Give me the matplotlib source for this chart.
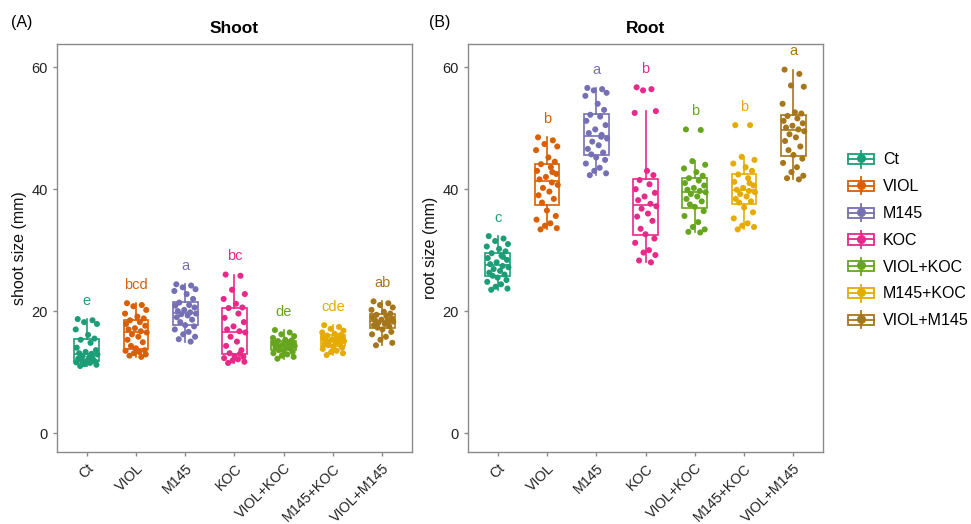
import numpy as np
import matplotlib
matplotlib.use("Agg")
import matplotlib.pyplot as plt
from matplotlib.patches import Rectangle
from matplotlib.lines import Line2D
from matplotlib.legend_handler import HandlerBase

plt.rcParams['font.family'] = ['Liberation Sans', 'DejaVu Sans']

# ── data ─────────────────────────────────────────────────────────────────────
groups = ['Ct', 'VIOL', 'M145', 'KOC', 'VIOL+KOC', 'M145+KOC', 'VIOL+M145']
colors = ['#1B9E77', '#D95F02', '#7570B3', '#E7298A', '#66A61E', '#E6AB02', '#A6761D']

shoot_ct = [18.7, 18.5, 18.2, 17.9, 17.0, 16.1, 15.5, 15.3, 14.8, 14.0, 13.6, 13.3, 13.1, 13.0,
            12.9, 12.6, 12.4, 12.2, 12.0, 11.9, 11.8, 11.7, 11.6, 11.5, 11.3, 11.2, 11.0, 12.5]
shoot_viol = [21.3, 21.0, 20.8, 20.2, 19.6, 19.1, 18.8, 18.5, 18.2, 17.9, 17.6, 17.2, 17.0, 16.7,
              16.5, 16.2, 15.8, 15.3, 14.9, 14.3, 13.9, 13.6, 13.5, 13.3, 13.1, 12.9, 12.7, 12.5]
shoot_m145 = [24.4, 24.2, 23.9, 23.6, 23.3, 22.8, 22.0, 21.4, 21.0, 20.9, 20.6, 20.2, 20.0, 19.8,
              19.6, 19.5, 19.3, 19.0, 18.6, 18.2, 17.7, 17.5, 17.0, 16.6, 16.2, 15.8, 15.4, 15.0]
shoot_koc = [26.0, 25.8, 23.5, 22.8, 22.0, 21.2, 20.6, 20.5, 19.6, 18.9, 18.2, 17.5, 17.0, 16.7,
             16.5, 15.8, 15.0, 14.3, 13.6, 13.1, 12.6, 12.5, 12.3, 12.1, 11.9, 11.7, 11.5, 13.0]
shoot_violkoc = [16.9, 16.5, 16.2, 15.9, 15.6, 15.3, 15.2, 15.1, 14.8, 14.7, 14.6, 14.5, 14.4, 14.4,
                 14.3, 14.2, 14.1, 14.0, 13.8, 13.6, 13.5, 13.3, 13.1, 12.9, 12.7, 12.5, 12.2, 14.9]
shoot_m145koc = [17.7, 17.4, 17.1, 16.8, 16.5, 16.3, 16.1, 16.0, 15.8, 15.6, 15.5, 15.4, 15.3, 15.2,
                 15.1, 15.0, 14.9, 14.7, 14.5, 14.4, 14.2, 14.0, 13.8, 13.5, 13.3, 13.1, 12.8, 15.9]
shoot_violm145 = [21.6, 21.3, 21.0, 20.6, 20.2, 19.9, 19.6, 19.4, 19.2, 19.0, 18.8, 18.6, 18.5, 18.4,
                  18.3, 18.1, 17.9, 17.7, 17.5, 17.3, 17.0, 16.6, 16.2, 15.8, 15.3, 14.8, 14.4, 18.0]

root_ct = [32.3, 31.9, 31.5, 31.0, 30.6, 30.2, 29.8, 29.5, 29.1, 28.7, 28.4, 28.0, 27.7, 27.4,
           27.2, 26.9, 26.6, 26.3, 26.0, 25.8, 25.5, 25.1, 24.8, 24.4, 24.0, 23.7, 23.5, 28.9]
root_viol = [48.5, 48.0, 47.4, 47.0, 46.4, 45.2, 44.5, 44.1, 43.6, 43.0, 42.5, 42.0, 41.6, 41.1,
             40.7, 40.2, 39.6, 39.0, 38.4, 37.8, 36.5, 35.6, 35.0, 34.4, 34.0, 33.6, 33.4, 42.8]
root_m145 = [56.6, 56.4, 56.2, 55.8, 55.3, 54.0, 53.0, 52.2, 51.9, 51.2, 50.5, 49.8, 49.2, 48.6,
             48.3, 47.8, 47.2, 46.6, 46.0, 45.7, 45.2, 44.8, 44.2, 43.5, 43.0, 42.6, 42.3, 48.9]
root_koc = [56.7, 56.4, 56.2, 52.8, 52.5, 43.0, 42.3, 41.5, 40.8, 40.0, 39.4, 38.8, 38.2, 37.6,
            37.2, 36.8, 36.0, 35.5, 34.8, 33.5, 32.6, 31.9, 31.2, 30.0, 29.6, 29.2, 28.3, 28.0]
root_violkoc = [49.8, 49.7, 44.6, 44.0, 43.4, 42.8, 42.2, 41.8, 41.4, 41.0, 40.6, 40.2, 39.9, 39.7,
                39.5, 39.2, 38.8, 38.4, 38.0, 37.5, 37.1, 36.4, 35.6, 34.6, 33.8, 33.4, 33.0, 32.9]
root_m145koc = [50.5, 50.5, 45.3, 44.8, 44.2, 43.6, 43.0, 42.4, 41.8, 41.2, 40.6, 40.2, 39.9, 39.7,
                39.5, 39.2, 38.8, 38.4, 38.0, 37.8, 37.0, 36.2, 35.2, 34.4, 34.0, 33.8, 33.4, 41.0]
root_violm145 = [59.6, 58.9, 57.0, 56.8, 54.0, 52.6, 52.4, 52.0, 51.6, 51.2, 50.8, 50.4, 50.1, 49.8,
                 49.5, 49.0, 48.5, 47.9, 47.0, 46.4, 45.6, 45.0, 44.3, 43.6, 42.8, 42.2, 41.8, 41.6]

shoot_letters = ['e', 'bcd', 'a', 'bc', 'de', 'cde', 'ab']
root_letters = ['c', 'b', 'a', 'b', 'b', 'b', 'a']

shoot = [shoot_ct, shoot_viol, shoot_m145, shoot_koc, shoot_violkoc, shoot_m145koc, shoot_violm145]
root = [root_ct, root_viol, root_m145, root_koc, root_violkoc, root_m145koc, root_violm145]

# fixed horizontal jitter (style only)
jitter = [-0.18, 0.12, -0.05, 0.21, -0.22, 0.03, 0.16, -0.12, 0.08, -0.20, 0.19, -0.02, -0.15, 0.10,
          0.22, -0.08, 0.05, -0.17, 0.14, -0.10, 0.00, 0.18, -0.21, 0.07, -0.04, 0.20, -0.13, 0.11]

GREY = '#8a8a8a'


class BoxKey(HandlerBase):
    """Legend key drawn like a little boxplot with a dot."""
    def create_artists(self, legend, orig_handle, xdescent, ydescent,
                       width, height, fontsize, trans):
        c = orig_handle.get_color()
        x0, y0 = -xdescent, -ydescent
        lw = 1.3
        box = Rectangle((x0, y0 + 0.2 * height), width, 0.6 * height,
                        fc='white', ec=c, lw=lw, transform=trans)
        med = Line2D([x0, x0 + width], [y0 + 0.5 * height] * 2, color=c, lw=lw, transform=trans)
        wt = Line2D([x0 + width / 2] * 2, [y0 + 0.8 * height, y0 + height], color=c, lw=lw, transform=trans)
        wb = Line2D([x0 + width / 2] * 2, [y0, y0 + 0.2 * height], color=c, lw=lw, transform=trans)
        dot = Line2D([x0 + width / 2], [y0 + 0.55 * height], marker='o', ms=5.5, color=c,
                     ls='none', transform=trans)
        return [box, med, wt, wb, dot]


def draw_panel(ax, data, letters, title, ylabel):
    pos = np.arange(1, len(groups) + 1)
    bp = ax.boxplot(data, positions=pos, widths=0.5, whis=1.5, showfliers=False,
                    patch_artist=True, manage_ticks=False)
    for i, c in enumerate(colors):
        bp['boxes'][i].set(facecolor='white', edgecolor=c, linewidth=1.2)
        bp['medians'][i].set(color=c, linewidth=1.2)
        for k in (2 * i, 2 * i + 1):
            bp['whiskers'][k].set(color=c, linewidth=1.2)
            bp['caps'][k].set(visible=False)

    for i, (vals, c) in enumerate(zip(data, colors)):
        xs = pos[i] + np.array(jitter[:len(vals)])
        ax.scatter(xs, vals, s=19, color=c, edgecolors='none', zorder=3)
        ax.text(pos[i], max(vals) + 3.0, letters[i], color=c, ha='center', va='center',
                fontsize=10.5)

    ax.set_xlim(0.4, 7.6)
    ax.set_ylim(-3.1, 63.8)
    ax.set_yticks([0, 20, 40, 60])
    ax.set_xticks(pos)
    ax.set_xticklabels(groups, rotation=45, ha='right', va='top', rotation_mode='anchor')
    ax.tick_params(axis='x', labelsize=10.3)
    ax.tick_params(axis='y', labelsize=10.5)
    ax.tick_params(axis='both', colors=GREY, labelcolor='#222222', length=3, width=1)
    for sp in ax.spines.values():
        sp.set_color(GREY)
        sp.set_linewidth(1.0)
    ax.set_title(title, fontsize=12.5, fontweight='bold', pad=8)
    ax.set_ylabel(ylabel, fontsize=11.5, color='#111111', labelpad=3)


fig = plt.figure(figsize=(9.71, 5.24), dpi=100)
ax1 = fig.add_axes([0.0587, 0.1374, 0.3656, 0.7786])
ax2 = fig.add_axes([0.482, 0.1374, 0.3656, 0.7786])

draw_panel(ax1, shoot, shoot_letters, 'Shoot', 'shoot size (mm)')
draw_panel(ax2, root, root_letters, 'Root', 'root size (mm)')

fig.text(22 / 971, 1 - 22 / 524, '(A)', fontsize=11.5, ha='center', va='center')
fig.text(440 / 971, 1 - 22 / 524, '(B)', fontsize=11.5, ha='center', va='center')

handles = [Line2D([], [], color=c) for c in colors]
fig.legend(handles, groups, handler_map={Line2D: BoxKey()},
           loc='center left', bbox_to_anchor=(848 / 971, 0.543), frameon=False,
           fontsize=11.5, handlelength=1.65, handleheight=1.25, labelspacing=0.62,
           handletextpad=0.55, borderpad=0, borderaxespad=0)

fig.savefig('out.png', dpi=100)
